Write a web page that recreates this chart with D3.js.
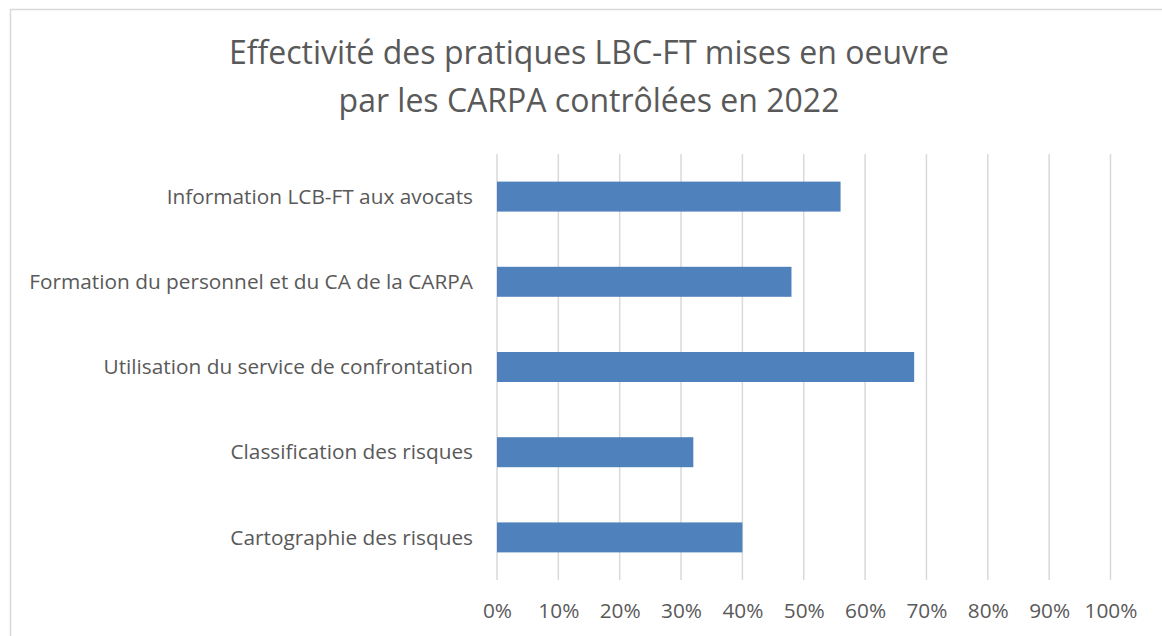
<!DOCTYPE html>
<html>
<head>
<meta charset="utf-8">
<script src="https://cdn.jsdelivr.net/npm/d3@7"></script>
<style>
  html, body { margin: 0; padding: 0; background: #fff; }
  svg { display: block; font-family: "Open Sans", sans-serif; }
</style>
</head>
<body>
<svg id="chart" width="1162" height="636"></svg>
<script>
const titleLines = ["Effectivité des pratiques LBC-FT mises en oeuvre", "par les CARPA contrôlées en 2022"];
const categories = [
  "Information LCB-FT aux avocats",
  "Formation du personnel et du CA de la CARPA",
  "Utilisation du service de confrontation",
  "Classification des risques",
  "Cartographie des risques"
];
const values = [0.56, 0.48, 0.68, 0.32, 0.40];
const tickValues = [0, 0.1, 0.2, 0.3, 0.4, 0.5, 0.6, 0.7, 0.8, 0.9, 1.0];

const svg = d3.select("#chart");
const textColor = "#595959";

// chart border
svg.append("rect")
  .attr("x", 10.5).attr("y", 9.5)
  .attr("width", 1200).attr("height", 700)
  .attr("fill", "none").attr("stroke", "#d9d9d9").attr("stroke-width", 1.5);

// title
svg.append("text")
  .attr("text-anchor", "middle")
  .attr("fill", textColor)
  .attr("font-size", 32)
  .selectAll("tspan")
  .data(titleLines)
  .join("tspan")
  .attr("x", 589)
  .attr("y", (d, i) => 64 + i * 48)
  .text(d => d);

const x = d3.scaleLinear().domain([0, 1]).range([497, 1110.5]);
const y = d3.scaleBand().domain(categories).range([154, 580]).paddingInner(0.648).paddingOuter(0.324);

// gridlines
svg.append("g")
  .selectAll("line")
  .data(tickValues)
  .join("line")
  .attr("x1", d => x(d)).attr("x2", d => x(d))
  .attr("y1", 154).attr("y2", 580)
  .attr("stroke", "#d9d9d9").attr("stroke-width", 1.5);

// bars
svg.append("g")
  .selectAll("rect")
  .data(values)
  .join("rect")
  .attr("x", x(0))
  .attr("y", (d, i) => y(categories[i]))
  .attr("width", d => x(d) - x(0))
  .attr("height", y.bandwidth())
  .attr("fill", "#4f81bd");

// x axis labels
const xAxis = d3.axisBottom(x).tickValues(tickValues).tickFormat(d3.format(".0%")).tickSize(0).tickPadding(0);
const gx = svg.append("g").attr("transform", "translate(0,580)").call(xAxis);
gx.select(".domain").remove();
gx.selectAll("text")
  .attr("y", 38)
  .attr("dy", 0)
  .attr("fill", textColor)
  .attr("font-size", 20.8)
  .attr("font-family", "'Open Sans', sans-serif");

// y axis labels
const yAxis = d3.axisLeft(y).tickSize(0).tickPadding(0);
const gy = svg.append("g").attr("transform", "translate(473,0)").call(yAxis);
gy.select(".domain").remove();
gy.selectAll("text")
  .attr("fill", textColor)
  .attr("font-size", 20.8)
  .attr("dy", "0.35em")
  .attr("font-family", "'Open Sans', sans-serif");
</script>
</body>
</html>
